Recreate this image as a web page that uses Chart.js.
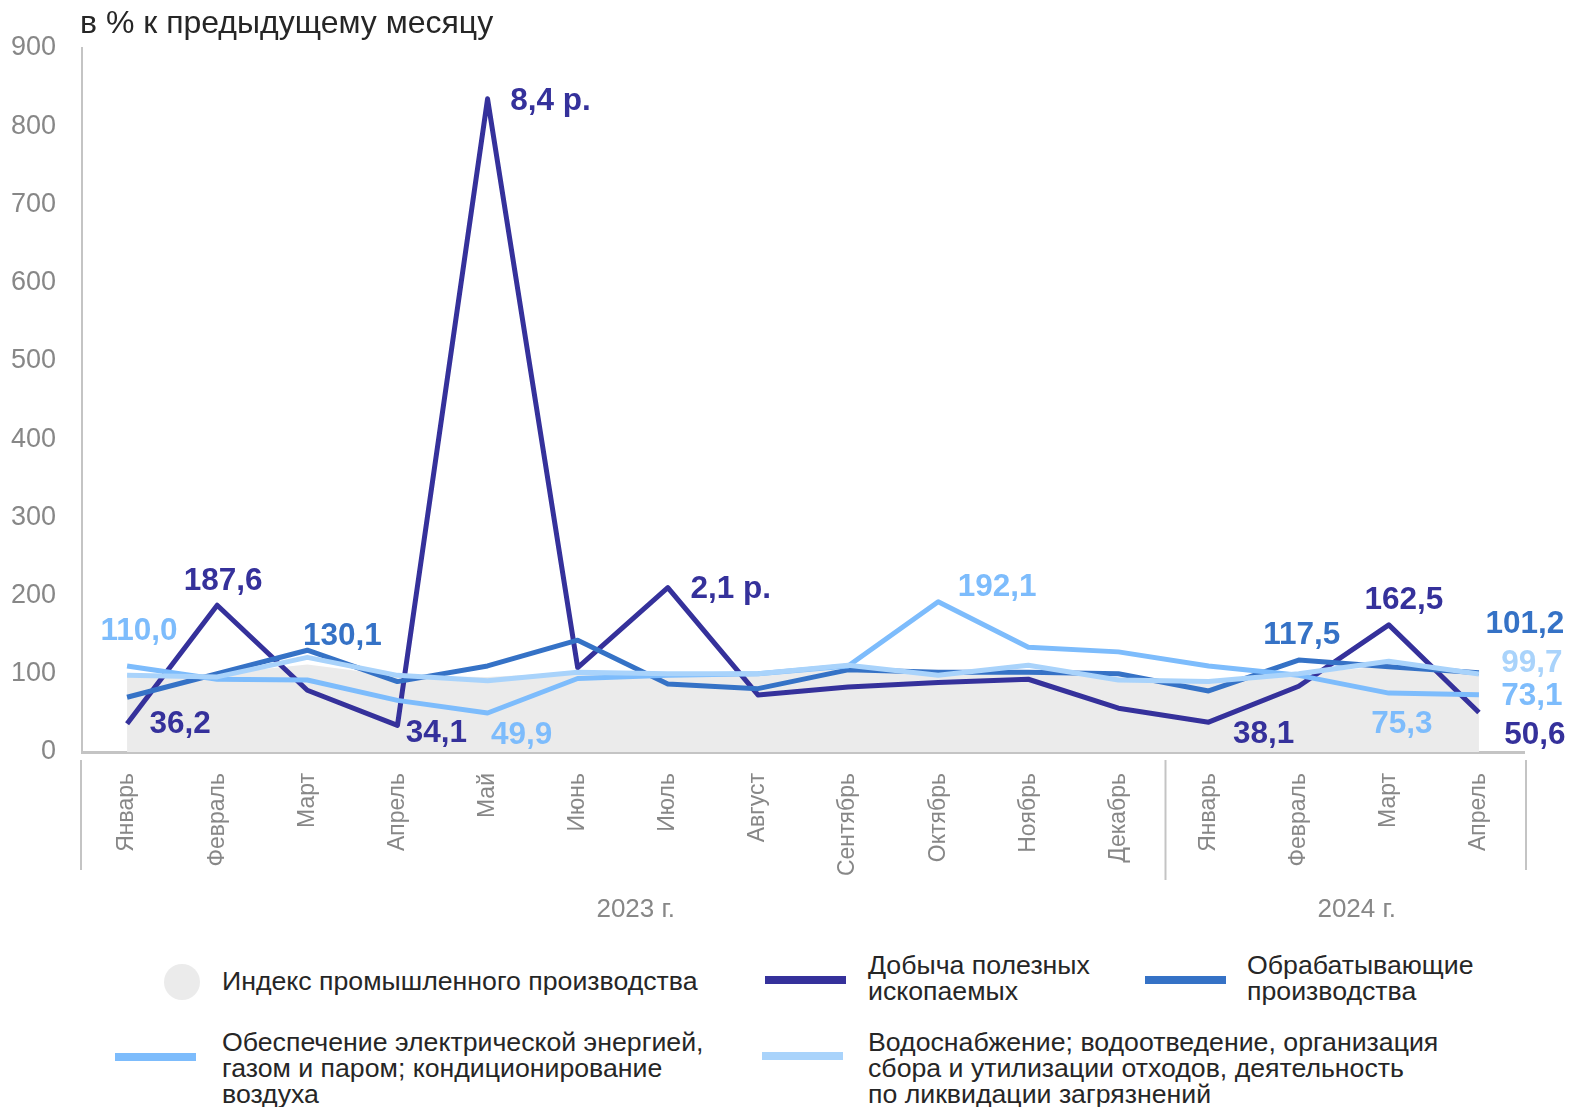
<!DOCTYPE html>
<html lang="ru">
<head>
<meta charset="utf-8">
<script src="https://cdn.jsdelivr.net/npm/chart.js@4.4.1/dist/chart.umd.min.js"></script>
<style>
  body { margin: 0; background: #fff; font-family: "Liberation Sans", Arial, sans-serif; color: #262626; }
  #wrap { position: relative; width: 1570px; height: 1107px; }
  #box { position: absolute; left: 0; top: 0; width: 1570px; height: 940px; }
  .title { position: absolute; left: 80px; top: 4px; font-size: 32px; line-height: 36px; }
  .lg-text { position: absolute; font-size: 26.7px; line-height: 26px; white-space: nowrap; }
  .lg-line { position: absolute; width: 81px; height: 8px; }
  .lg-dot { position: absolute; width: 36px; height: 36px; border-radius: 50%; background: #ebebeb; }
</style>
</head>
<body>
<div id="wrap">
  <div id="box"><canvas id="chart"></canvas></div>
  <div class="title">в % к предыдущему месяцу</div>

  <div class="lg-dot" style="left:164px; top:964px;"></div>
  <div class="lg-text" style="left:222px; top:968px;">Индекс промышленного производства</div>

  <div class="lg-line" style="left:765px; top:976px; background:#35319b;"></div>
  <div class="lg-text" style="left:868px; top:952px;">Добыча полезных<br>ископаемых</div>

  <div class="lg-line" style="left:1145px; top:976px; background:#3572c6;"></div>
  <div class="lg-text" style="left:1247px; top:952px;">Обрабатывающие<br>производства</div>

  <div class="lg-line" style="left:115px; top:1053px; background:#7dbcfc;"></div>
  <div class="lg-text" style="left:222px; top:1029px;">Обеспечение электрической энергией,<br>газом и паром; кондиционирование<br>воздуха</div>

  <div class="lg-line" style="left:762px; top:1052px; background:#a9d3fb;"></div>
  <div class="lg-text" style="left:868px; top:1029px;">Водоснабжение; водоотведение, организация<br>сбора и утилизации отходов, деятельность<br>по ликвидации загрязнений</div>
</div>

<script>
const months = ["Январь", "Февраль", "Март", "Апрель", "Май", "Июнь", "Июль", "Август",
  "Сентябрь", "Октябрь", "Ноябрь", "Декабрь", "Январь", "Февраль", "Март", "Апрель"]
const years = [
  { label: "2023 г.", from: 0, to: 11 },
  { label: "2024 г.", from: 12, to: 15 }
]

const industryIndex = [98, 100, 112, 97, 96, 102, 100, 99, 106, 100, 104, 96, 88, 100, 110, 99]
const mining = [36.2, 187.6, 79, 34.1, 835, 108, 210, 73, 83, 89, 93, 56, 38.1, 84, 162.5, 50.6]
const manufacturing = [70, 100, 130.1, 90, 110, 143, 87, 81, 105, 102, 102, 100, 78, 117.5, 109, 101.2]
const energy = [110.0, 93, 92, 66, 49.9, 94, 98, 100, 110, 192.1, 134, 128, 110, 98, 75.3, 73.1]
const water = [98, 96, 121, 98, 91, 102, 100, 100, 111, 98, 111, 92, 90, 100, 116, 99.7]

const yTicks = [0, 100, 200, 300, 400, 500, 600, 700, 800, 900]

// labelled points: dataset index, point index, text
const valueLabels = [
  { ds: 1, i: 0, text: "36,2", dx: 53, dy: 1 },
  { ds: 1, i: 1, text: "187,6", dx: 6, dy: -24 },
  { ds: 2, i: 2, text: "130,1", dx: 35, dy: -14 },
  { ds: 3, i: 0, text: "110,0", dx: 12, dy: -35 },
  { ds: 1, i: 3, text: "34,1", dx: 39, dy: 8 },
  { ds: 3, i: 4, text: "49,9", dx: 34, dy: 22 },
  { ds: 1, i: 4, text: "8,4 р.", dx: 63, dy: 2 },
  { ds: 1, i: 6, text: "2,1 р.", dx: 63, dy: 2 },
  { ds: 3, i: 9, text: "192,1", dx: 59, dy: -14 },
  { ds: 1, i: 12, text: "38,1", dx: 55, dy: 12 },
  { ds: 2, i: 13, text: "117,5", dx: 3, dy: -25 },
  { ds: 1, i: 14, text: "162,5", dx: 15, dy: -25 },
  { ds: 3, i: 14, text: "75,3", dx: 13, dy: 31 },
  { ds: 2, i: 15, text: "101,2", dx: 46, dy: -49 },
  { ds: 4, i: 15, text: "99,7", dx: 53, dy: -11 },
  { ds: 3, i: 15, text: "73,1", dx: 53, dy: 1 },
  { ds: 1, i: 15, text: "50,6", dx: 56, dy: 23 }
]

const GREY_TEXT = "#878787"
const AXIS_GREY = "#c4c4c4"

const labelPlugin = {
  id: "valueLabels",
  afterDatasetsDraw(chart) {
    const ctx = chart.ctx
    ctx.save()
    ctx.font = "bold 31.5px 'Liberation Sans', Arial, sans-serif"
    ctx.textAlign = "center"
    ctx.textBaseline = "middle"
    valueLabels.forEach(l => {
      const pt = chart.getDatasetMeta(l.ds).data[l.i]
      ctx.fillStyle = chart.data.datasets[l.ds].borderColor
      ctx.fillText(l.text, pt.x + l.dx, pt.y + l.dy)
    })
    ctx.restore()
  }
}

const yearPlugin = {
  id: "yearGroups",
  afterDraw(chart) {
    const ctx = chart.ctx
    const x = chart.scales.x
    const half = (x.getPixelForValue(1) - x.getPixelForValue(0)) / 2
    ctx.save()
    ctx.strokeStyle = AXIS_GREY
    ctx.lineWidth = 2
    const edges = [x.left - 1]
    years.forEach(y => edges.push(x.getPixelForValue(y.to) + half + 2))
    edges.forEach((e, k) => {
      const bottom = (k === 0 || k === edges.length - 1) ? 870 : 880
      ctx.beginPath()
      ctx.moveTo(e, 760)
      ctx.lineTo(e, bottom)
      ctx.stroke()
    })
    ctx.fillStyle = GREY_TEXT
    ctx.font = "26px 'Liberation Sans', Arial, sans-serif"
    ctx.textAlign = "center"
    ctx.textBaseline = "middle"
    years.forEach(y => {
      const cx = (x.getPixelForValue(y.from) + x.getPixelForValue(y.to)) / 2 + 13
      ctx.fillText(y.label, cx, 910)
    })
    ctx.restore()
  }
}

function lineSet(label, data, color, order) {
  return {
    label: label,
    data: data,
    borderColor: color,
    backgroundColor: color,
    borderWidth: 5,
    pointRadius: 0,
    tension: 0,
    fill: false,
    borderJoinStyle: "round",
    order: order
  }
}

new Chart(document.getElementById("chart"), {
  type: "line",
  data: {
    labels: months,
    datasets: [
      {
        label: "Индекс промышленного производства",
        data: industryIndex,
        borderWidth: 0,
        borderColor: "rgba(0,0,0,0)",
        backgroundColor: "#ebebeb",
        pointRadius: 0,
        tension: 0,
        fill: "origin",
        order: 4
      },
      lineSet("Добыча полезных ископаемых", mining, "#35319b", 3),
      lineSet("Обрабатывающие производства", manufacturing, "#3572c6", 2),
      lineSet("Обеспечение электрической энергией, газом и паром; кондиционирование воздуха", energy, "#7dbcfc", 1),
      lineSet("Водоснабжение; водоотведение, организация сбора и утилизации отходов, деятельность по ликвидации загрязнений", water, "#a9d3fb", 0)
    ]
  },
  options: {
    responsive: true,
    maintainAspectRatio: false,
    animation: false,
    layout: {
      padding: { top: 48, right: 46, left: 0, bottom: 0 }
    },
    scales: {
      x: {
        offset: true,
        grid: { display: false, offset: true },
        border: { display: true, color: AXIS_GREY, width: 3 },
        ticks: {
          autoSkip: false,
          minRotation: 90,
          maxRotation: 90,
          padding: 13,
          color: GREY_TEXT,
          font: { family: "'Liberation Sans', Arial, sans-serif", size: 23 }
        },
        afterFit(scale) { scale.height = 188 }
      },
      y: {
        min: 0,
        max: 900,
        afterBuildTicks(scale) { scale.ticks = yTicks.map(v => ({ value: v })) },
        grid: { display: false },
        border: { display: true, color: AXIS_GREY, width: 2 },
        ticks: {
          padding: 18,
          color: GREY_TEXT,
          font: { family: "'Liberation Sans', Arial, sans-serif", size: 27 }
        },
        afterFit(scale) { scale.width = 82 }
      }
    },
    plugins: {
      legend: { display: false },
      tooltip: { enabled: false }
    }
  },
  plugins: [labelPlugin, yearPlugin]
})
</script>
</body>
</html>
